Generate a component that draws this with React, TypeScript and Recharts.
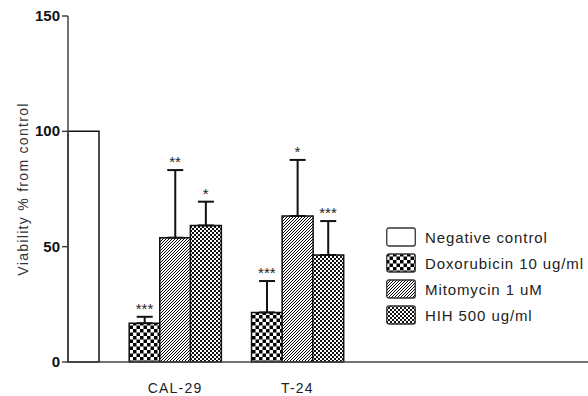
import React from 'react';
import {
  ComposedChart,
  Bar,
  Line,
  XAxis,
  YAxis,
  ErrorBar,
  Cell,
  LabelList,
  Legend,
} from 'recharts';

const groups = ['CAL-29', 'T-24'];
const seriesNames = [
  'Negative control',
  'Doxorubicin 10 ug/ml',
  'Mitomycin 1 uM',
  'HIH 500 ug/ml',
];
const negativeControl = 100;

// treated series, one value per group (mean, upper SD, significance)
const doxorubicin = [16.8, 21.5];
const doxorubicinErr = [2.8, 13.6];
const doxorubicinStars = ['***', '***'];

const mitomycin = [53.9, 63.3];
const mitomycinErr = [29.3, 24.3];
const mitomycinStars = ['**', '*'];

const hih = [59.2, 46.4];
const hihErr = [10.3, 14.7];
const hihStars = ['*', '***'];

const yTicks = [0, 50, 100, 150];

const FONT = '"Liberation Sans", Arial, sans-serif';
const fills = ['#ffffff', 'url(#pDox)', 'url(#pMito)', 'url(#pHih)'];
const legendFills = ['#ffffff', 'url(#lDox)', 'url(#lMito)', 'url(#lHih)'];

type Row = {
  slot: string;
  label: string;
  value?: number;
  err?: [number, number];
  top?: number;
  stars?: string;
  fill?: string;
};

const treated = [
  { values: doxorubicin, errors: doxorubicinErr, stars: doxorubicinStars },
  { values: mitomycin, errors: mitomycinErr, stars: mitomycinStars },
  { values: hih, errors: hihErr, stars: hihStars },
];

// one bar per slot, empty slots keep the spacing of the original figure
const rows: Row[] = [{ slot: 'neg', label: '', value: negativeControl, fill: fills[0] }];
groups.forEach((g, gi) => {
  rows.push({ slot: `gap-${gi}`, label: '' });
  treated.forEach((s, si) => {
    rows.push({
      slot: `${g}-${si}`,
      label: si === 1 ? g : '',
      value: s.values[gi],
      err: [0, s.errors[gi]],
      top: s.values[gi] + s.errors[gi],
      stars: s.stars[gi],
      fill: fills[si + 1],
    });
  });
});
while (rows.length < 17) rows.push({ slot: `pad-${rows.length}`, label: '' });

const Patterns = ({ prefix }: { prefix: string }) => (
  <defs>
    <pattern id={`${prefix}Dox`} width={7} height={7} patternUnits="userSpaceOnUse">
      <rect width={7} height={7} fill="#fff" />
      <rect width={3.5} height={3.5} fill="#000" />
      <rect x={3.5} y={3.5} width={3.5} height={3.5} fill="#000" />
    </pattern>
    <pattern id={`${prefix}Mito`} width={3} height={3} patternUnits="userSpaceOnUse">
      <rect width={3} height={3} fill="#fff" />
      <path d="M0,3 L3,0 M-1,1 L1,-1 M2,4 L4,2" stroke="#000" strokeWidth={1} />
    </pattern>
    <pattern id={`${prefix}Hih`} width={4} height={4} patternUnits="userSpaceOnUse">
      <rect width={4} height={4} fill="#fff" />
      <rect width={2} height={2} fill="#111" />
      <rect x={2} y={2} width={2} height={2} fill="#111" />
    </pattern>
  </defs>
);

const YTick = (props: any) => {
  const { x, y, payload } = props;
  return (
    <text
      x={x}
      y={y}
      dy={5}
      textAnchor="end"
      fill="#111"
      fontSize={15}
      fontWeight={700}
      fontFamily={FONT}
    >
      {payload.value}
    </text>
  );
};

const LegendBox = () => (
  <div style={{ fontFamily: FONT, fontSize: 15, letterSpacing: 0.9, color: '#222' }}>
    <svg width={0} height={0} style={{ position: 'absolute' }}>
      <Patterns prefix="l" />
    </svg>
    {seriesNames.map((name, i) => (
      <div key={name} style={{ display: 'flex', alignItems: 'center', height: 26 }}>
        <svg width={30} height={20} style={{ marginRight: 9 }}>
          <rect
            x={0.75}
            y={1}
            width={28.5}
            height={18}
            rx={2}
            fill={legendFills[i]}
            stroke="#333"
            strokeWidth={1.3}
          />
        </svg>
        <span>{name}</span>
      </div>
    ))}
  </div>
);

export default function App() {
  return (
    <div style={{ position: 'absolute', left: 0, top: 0, background: '#fff' }}>
      <ComposedChart
        width={588}
        height={396}
        data={rows}
        margin={{ top: 16, right: 0, bottom: 0, left: 0 }}
        barCategoryGap={0}
      >
        <Patterns prefix="p" />
        <XAxis
          dataKey="slot"
          interval={0}
          tickLine={false}
          height={34}
          tickMargin={15}
          axisLine={{ stroke: '#444', strokeWidth: 1.5 }}
          tick={{ fill: '#222', fontSize: 14, fontFamily: FONT, letterSpacing: 1.2 }}
          tickFormatter={(v: string) => rows.find((r) => r.slot === v)?.label ?? ''}
        />
        <YAxis
          domain={[0, 150]}
          ticks={yTicks}
          width={68}
          tickSize={6}
          axisLine={{ stroke: '#444', strokeWidth: 1.5 }}
          tickLine={{ stroke: '#444', strokeWidth: 1.5 }}
          tick={<YTick />}
          label={{
            value: 'Viability % from control',
            angle: -90,
            position: 'insideLeft',
            offset: 23,
            fill: '#333',
            style: { textAnchor: 'middle', fontSize: 14, fontFamily: FONT, letterSpacing: 1.3 },
          }}
        />
        <Legend
          layout="vertical"
          align="center"
          verticalAlign="middle"
          content={() => <LegendBox />}
          wrapperStyle={{ position: 'absolute', left: 386, top: 224, width: 'auto' }}
        />
        <Bar dataKey="value" stroke="#111" strokeWidth={1.5} isAnimationActive={false}>
          {rows.map((r) => (
            <Cell key={r.slot} fill={r.fill ?? 'none'} />
          ))}
          <ErrorBar dataKey="err" width={8} stroke="#111" strokeWidth={2} direction="y" />
        </Bar>
        <Line
          dataKey="top"
          stroke="none"
          dot={false}
          activeDot={false}
          legendType="none"
          isAnimationActive={false}
        >
          <LabelList
            dataKey="stars"
            position="top"
            offset={3}
            fill="#222"
            fontSize={15}
            fontFamily={FONT}
          />
        </Line>
      </ComposedChart>
    </div>
  );
}
